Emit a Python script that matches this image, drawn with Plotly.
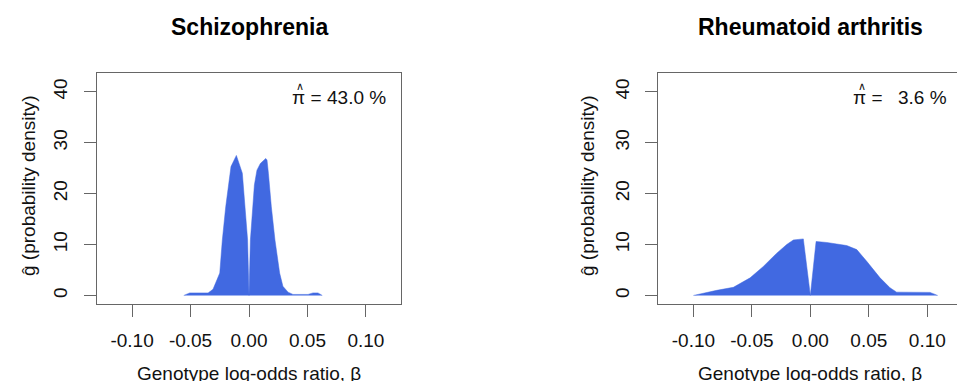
import plotly.graph_objects as go

W, H = 957, 381

# ---------------- data ----------------
titles = ["Schizophrenia", "Rheumatoid arthritis"]
pi_values = ["43.0 %", "3.6 %"]

schiz_x = [-0.0558, -0.0507, -0.035, -0.0308, -0.025, -0.0228, -0.0199, -0.0165, -0.0154,
           -0.0108, -0.0057, -0.0012, 0.0, 0.0012, 0.0046, 0.0068, 0.0097, 0.0143, 0.0154,
           0.0166, 0.0191, 0.0222, 0.0262, 0.029, 0.0334, 0.0376, 0.0505, 0.0547, 0.059, 0.0627]
schiz_y = [0, 0.5, 0.5, 1.2, 4.4, 10.9, 17.4, 24.0, 25.3,
           27.5, 24.0, 10.9, 0, 10.9, 21.7, 24.6, 25.9, 26.9, 26.6,
           24.0, 17.4, 10.9, 4.4, 1.8, 0.65, 0.2, 0.2, 0.5, 0.5, 0]

ra_x = [-0.1, -0.0943, -0.080, -0.0658, -0.0515, -0.0402, -0.0287, -0.0202, -0.0145, -0.006,
        0.0, 0.0049, 0.014, 0.0311, 0.0397, 0.0482, 0.0596, 0.0681, 0.0738, 0.1023, 0.1089]
ra_y = [0, 0.3, 1.0, 1.6, 3.45, 5.7, 8.3, 10.0, 10.9, 11.1,
        0, 10.6, 10.4, 9.8, 9.0, 6.7, 3.45, 1.5, 0.65, 0.6, 0]

x_ticks = [-0.10, -0.05, 0.00, 0.05, 0.10]
x_tick_labels = ["-0.10", "-0.05", "0.00", "0.05", "0.10"]
y_ticks = [0, 10, 20, 30, 40]
y_tick_labels = ["0", "10", "20", "30", "40"]

x_title = "Genotype log-odds ratio, β"
y_title = "ĝ (probability density)"

# ---------------- styling ----------------
FONT = "Liberation Sans, Arial, sans-serif"
FILL = "#4169E1"
AXC = "#666666"
TXT = "#111111"
FS = 19

def px(x):
    return x / W

def py(y):
    return 1 - y / H

fig = go.Figure()

fig.add_trace(go.Scatter(x=schiz_x, y=schiz_y, mode="lines", fill="tozeroy",
                         fillcolor=FILL, line=dict(color=FILL, width=0.5),
                         xaxis="x", yaxis="y", showlegend=False, hoverinfo="skip"))
fig.add_trace(go.Scatter(x=ra_x, y=ra_y, mode="lines", fill="tozeroy",
                         fillcolor=FILL, line=dict(color=FILL, width=0.5),
                         xaxis="x2", yaxis="y2", showlegend=False, hoverinfo="skip"))

ydom = [py(304), py(73)]

xcommon = dict(tickvals=x_ticks, ticktext=x_tick_labels, ticks="outside", ticklen=12,
               tickcolor=AXC, tickwidth=1, showline=True, linecolor=AXC, linewidth=1,
               mirror=True, showgrid=False, zeroline=False,
               tickfont=dict(family=FONT, size=FS, color=TXT),
               ticklabelstandoff=7)
ycommon = dict(tickvals=y_ticks, ticktext=y_tick_labels, ticks="outside", ticklen=12,
               tickcolor=AXC, tickwidth=1, showline=True, linecolor=AXC, linewidth=1,
               showgrid=False, zeroline=False, range=[-1.68, 43.68], tickangle=-90,
               tickfont=dict(family=FONT, size=FS, color=TXT),
               ticklabelstandoff=9)

fig.update_layout(
    width=W, height=H,
    margin=dict(l=0, r=0, t=0, b=0),
    paper_bgcolor="white", plot_bgcolor="white",
    xaxis=dict(domain=[px(97), px(401)], range=[-0.13, 0.13], anchor="y", **xcommon),
    yaxis=dict(domain=ydom, anchor="x", mirror=True, **ycommon),
    xaxis2=dict(domain=[px(658.3), 1.0], range=[-0.13, (957 - 810.3) / 1170.0],
                anchor="y2", **xcommon),
    yaxis2=dict(domain=ydom, anchor="x2", mirror=False, **ycommon),
)

ann = []
centers = [249, 810]
ylab_x = [28, 587]
pi_eq_right = [323, 884]
val_right = [388, 949]
pi_center = [300, 861.5]
for i in range(2):
    ann.append(dict(text="<b>" + titles[i] + "</b>", x=px(centers[i]), y=py(27),
                    xref="paper", yref="paper", showarrow=False,
                    xanchor="center", yanchor="middle",
                    font=dict(family=FONT, size=23, color="black")))
    ann.append(dict(text=x_title, x=px(centers[i]), y=py(373),
                    xref="paper", yref="paper", showarrow=False,
                    xanchor="center", yanchor="middle",
                    font=dict(family=FONT, size=FS, color=TXT)))
    ann.append(dict(text=y_title, x=px(ylab_x[i]), y=py(186),
                    xref="paper", yref="paper", showarrow=False, textangle=-90,
                    xanchor="center", yanchor="middle",
                    font=dict(family=FONT, size=FS, color=TXT)))
    ann.append(dict(text="π =", x=px(pi_eq_right[i]), y=py(97),
                    xref="paper", yref="paper", showarrow=False,
                    xanchor="right", yanchor="middle",
                    font=dict(family=FONT, size=FS, color=TXT)))
    ann.append(dict(text="∧", x=px(pi_center[i]), y=py(86),
                    xref="paper", yref="paper", showarrow=False,
                    xanchor="center", yanchor="middle",
                    font=dict(family=FONT, size=11, color=TXT)))
    ann.append(dict(text=pi_values[i], x=px(val_right[i]), y=py(97),
                    xref="paper", yref="paper", showarrow=False,
                    xanchor="right", yanchor="middle",
                    font=dict(family=FONT, size=FS, color=TXT)))

fig.update_layout(annotations=ann)

fig.write_html("out.html",
               config={"displayModeBar": False},
               post_script="document.body.style.margin='0';document.body.style.padding='0';")
